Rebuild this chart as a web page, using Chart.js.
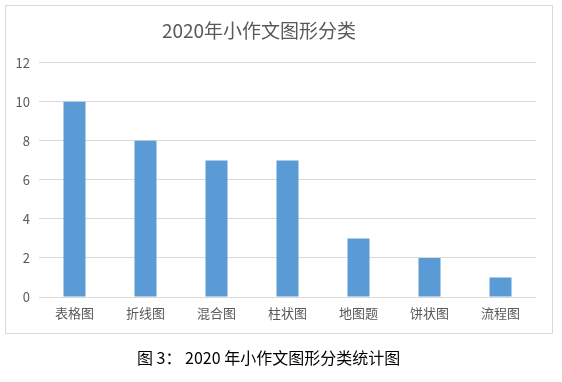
<!DOCTYPE html>
<html>
<head>
<meta charset="utf-8">
<script src="https://cdn.jsdelivr.net/npm/chart.js@4/dist/chart.umd.min.js"></script>
<style>
  html, body { margin: 0; padding: 0; background: #fff; overflow: hidden; }
  #wrap { position: relative; width: 562px; height: 382px; overflow: hidden; }
  #frame { position: absolute; left: 5px; top: 5px; width: 548px; height: 329px; box-sizing: border-box; border: 1px solid #d9d9d9; }
  #chart { position: absolute; left: -18px; top: 0; }
  #caption { position: absolute; left: 137px; top: 345px; font: 16px "Noto Sans CJK SC", sans-serif; color: #000; white-space: pre; }
</style>
</head>
<body>
<div id="wrap">
  <div id="frame"></div>
  <canvas id="chart" width="580" height="382"></canvas>
  <div id="caption">图 3： 2020 年小作文图形分类统计图</div>
</div>
<script>
const categories = ['表格图', '折线图', '混合图', '柱状图', '地图题', '饼状图', '流程图'];
const counts = [10, 8, 7, 7, 3, 2, 1];
const yTicks = [0, 2, 4, 6, 8, 10, 12];

const textColor = '#595959';
const gridColor = '#d9d9d9';
const fontFamily = '"Noto Sans CJK SC", "Liberation Sans", sans-serif';

// canvas is shifted 18px left so the title sits where Excel put it
new Chart(document.getElementById('chart'), {
    type: 'bar',
    data: {
        labels: categories,
        datasets: [{
            data: counts,
            backgroundColor: '#5b9bd5',
            borderWidth: 0,
            categoryPercentage: 1,
            barPercentage: 0.31
        }]
    },
    options: {
        responsive: false,
        animation: false,
        layout: { padding: { left: 0, right: 26, top: 0, bottom: 0 } },
        plugins: {
            legend: { display: false },
            tooltip: { enabled: false },
            title: {
                display: true,
                text: '2020年小作文图形分类',
                color: textColor,
                font: { family: fontFamily, size: 19, weight: 'normal' },
                padding: { top: 19, bottom: 21 }
            }
        },
        scales: {
            x: {
                grid: { display: false },
                border: { display: false },
                ticks: {
                    color: textColor,
                    padding: 0,
                    font: { family: fontFamily, size: 13 }
                },
                afterFit: function(scale) { scale.height = 85; }
            },
            y: {
                min: 0,
                max: 12,
                afterBuildTicks: function(scale) {
                    scale.ticks = yTicks.map(v => ({ value: v }));
                },
                grid: { color: gridColor, drawTicks: false },
                border: { display: false },
                ticks: {
                    color: textColor,
                    padding: 9,
                    font: { family: fontFamily, size: 13 }
                },
                afterFit: function(scale) { scale.width = 57; }
            }
        }
    }
});
</script>
</body>
</html>
